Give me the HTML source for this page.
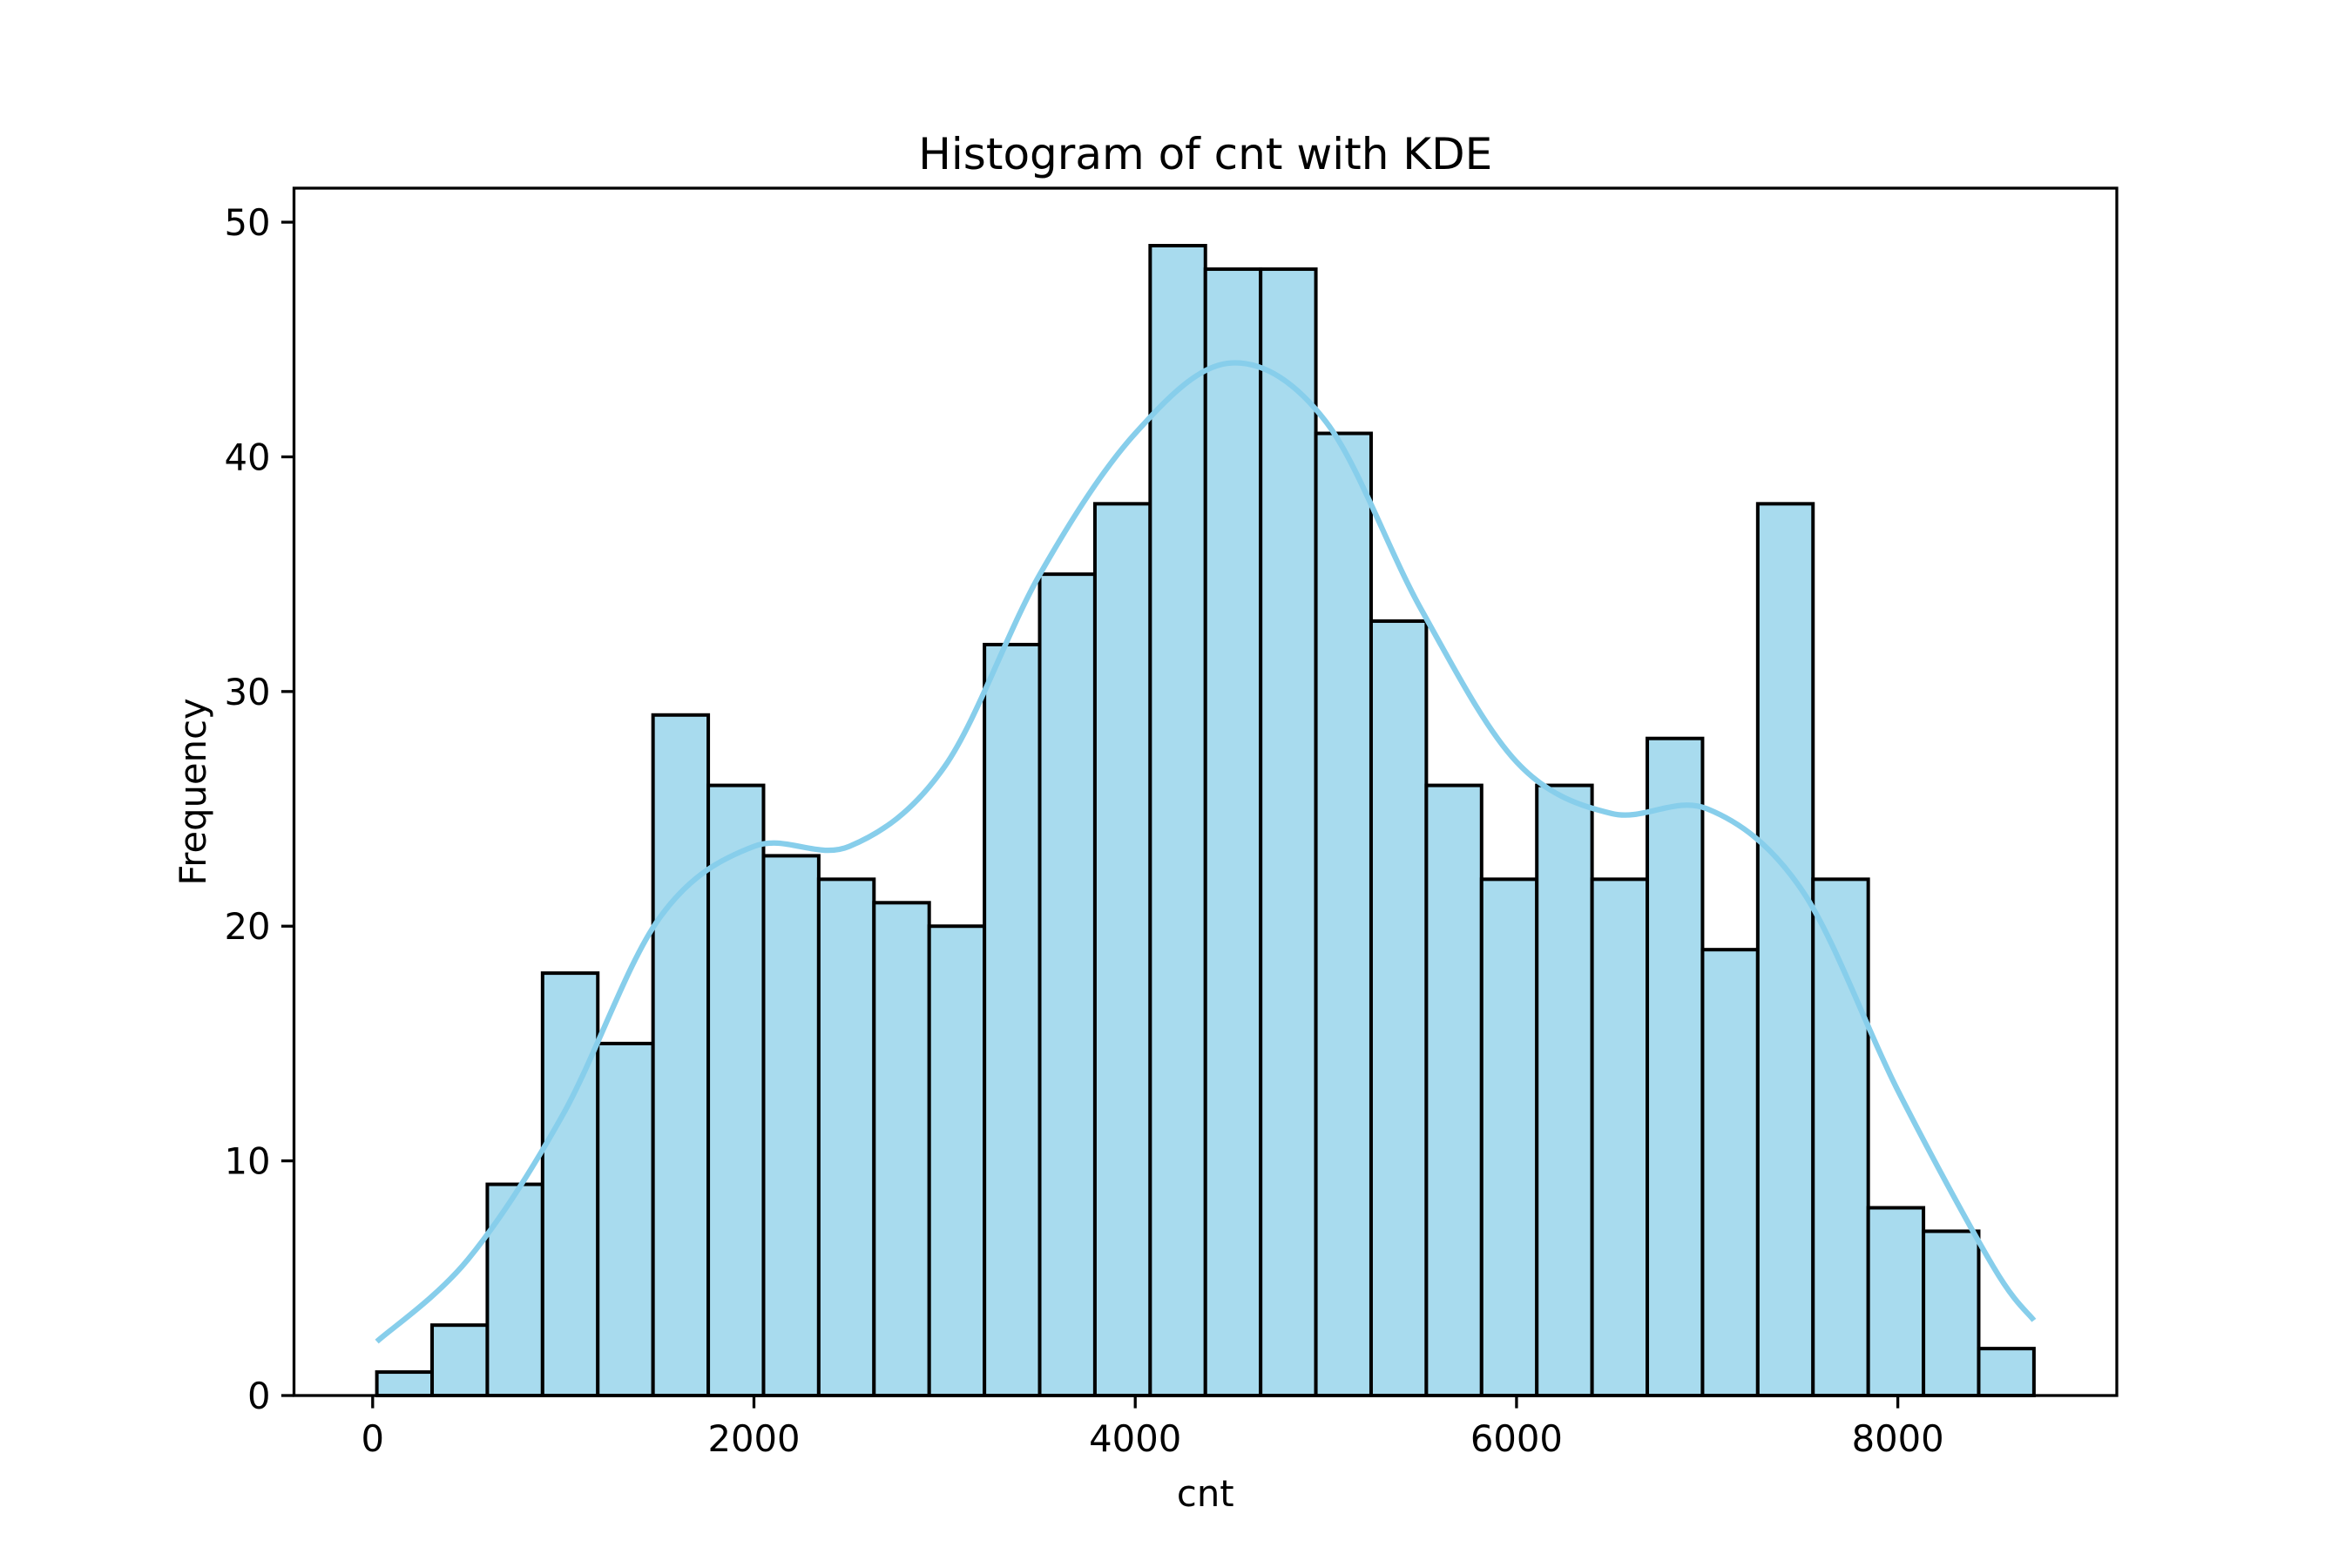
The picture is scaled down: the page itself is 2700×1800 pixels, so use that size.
<!DOCTYPE html>
<html><head><meta charset="utf-8"><style>
html,body{margin:0;padding:0;background:#fff}
svg{display:block}
text{font-family:"DejaVu Sans","Liberation Sans",sans-serif;fill:#000}
</style></head><body>
<svg id="chart" width="2700" height="1800" viewBox="0 0 2700 1800"></svg>
<script>
const counts=[1,3,9,18,15,29,26,23,22,21,20,32,35,38,49,48,48,41,33,26,22,26,22,28,19,38,22,8,7,2];
const dataMin=22, dataMax=8714;
const xTicks=[0,2000,4000,6000,8000];
const yTicks=[0,10,20,30,40,50];
const kdeX=[22,500,1000,1500,2000,2500,3000,3500,4000,4500,5000,5500,6000,6500,7000,7500,8000,8500,8714];
const kdeY=[2.3,5.8,12,20.3,23.4,23.4,26.8,35,41,44,41.5,33.5,27,24.8,25,21.5,13,5.5,3.2];

const svg=document.getElementById('chart');
const NS='http://www.w3.org/2000/svg';
const L=337.5,R=2430,T=216,B=1602;
const span=dataMax-dataMin;
const x0=dataMin-0.05*span,x1=dataMax+0.05*span;
const yMax=Math.max(...counts)*1.05;
const X=v=>L+(v-x0)/(x1-x0)*(R-L);
const Y=v=>B-v/yMax*(B-T);
function mk(tag,attrs,parent){const e=document.createElementNS(NS,tag);for(const k in attrs)e.setAttribute(k,attrs[k]);(parent||svg).appendChild(e);return e;}

const bars=mk('g',{});


const bw=span/counts.length;
counts.forEach((c,i)=>{
  const a=X(dataMin+i*bw),b=X(dataMin+(i+1)*bw);
  const r=mk('rect',{x:a,y:Y(c),width:b-a,height:Y(0)-Y(c),fill:'#a8dbee',stroke:'#000','stroke-width':4},bars);
  
  
});

const pts=kdeX.map((v,i)=>[X(v),Y(kdeY[i])]);
let d='M'+pts[0][0]+','+pts[0][1];
for(let i=0;i<pts.length-1;i++){
  const p0=pts[Math.max(0,i-1)],p1=pts[i],p2=pts[i+1],p3=pts[Math.min(pts.length-1,i+2)];
  const c1=[p1[0]+(p2[0]-p0[0])/6,p1[1]+(p2[1]-p0[1])/6];
  const c2=[p2[0]-(p3[0]-p1[0])/6,p2[1]-(p3[1]-p1[1])/6];
  d+=`C${c1[0]},${c1[1]} ${c2[0]},${c2[1]} ${p2[0]},${p2[1]}`;
}
const kde=mk('path',{d:d,fill:'none',stroke:'#87ceeb','stroke-width':6.25,'stroke-linecap':'butt'});



const frame=mk('rect',{x:L,y:T,width:R-L,height:B-T,fill:'none',stroke:'#000','stroke-width':3.3});



const xa=mk('g',{});


xTicks.forEach(t=>{
  mk('line',{x1:X(t),x2:X(t),y1:B,y2:B+14.6,stroke:'#000','stroke-width':3.3},xa);
  const tx=mk('text',{x:X(t),y:B+64,'font-size':41.7,'text-anchor':'middle'},xa);
  tx.textContent=t;
  
  
});
const ya=mk('g',{});


yTicks.forEach(t=>{
  mk('line',{x1:L-14.6,x2:L,y1:Y(t),y2:Y(t),stroke:'#000','stroke-width':3.3},ya);
  const tx=mk('text',{x:L-27,y:Y(t)+15,'font-size':41.7,'text-anchor':'end'},ya);
  tx.textContent=t;
  
  
});
const title=mk('text',{x:(L+R)/2,y:194,'font-size':50,'text-anchor':'middle'});
title.textContent='Histogram of cnt with KDE';


const xl=mk('text',{x:(L+R)/2,y:1729,'font-size':41.7,'text-anchor':'middle'});
xl.textContent='cnt';


const yl=mk('text',{x:0,y:0,'font-size':41.7,'text-anchor':'middle',transform:`translate(236,${(T+B)/2}) rotate(-90)`});
yl.textContent='Frequency';


</script>
</body></html>
